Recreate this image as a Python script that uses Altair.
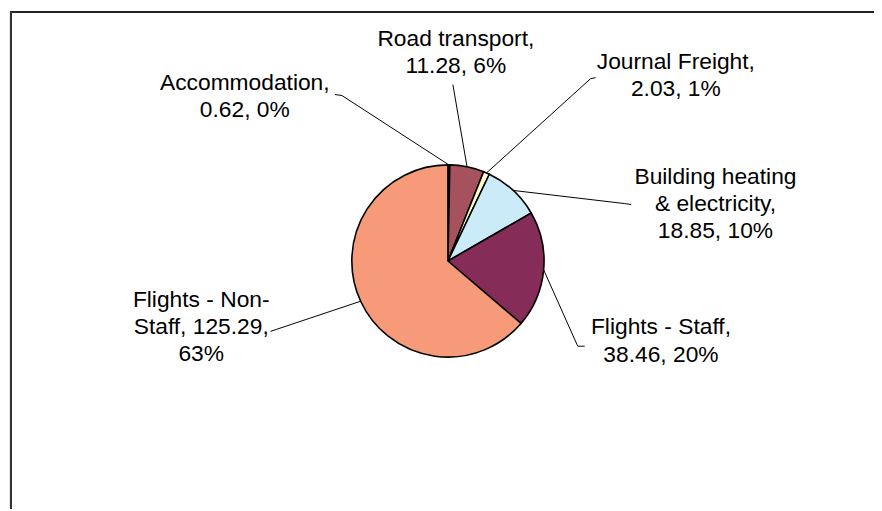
import math
import altair as alt
import pandas as pd

# ---- data ----
categories = ["Accommodation", "Road transport", "Journal Freight",
              "Building heating & electricity", "Flights - Staff", "Flights - Non-Staff"]
values = [0.62, 11.28, 2.03, 18.85, 38.46, 125.29]
value_text = ["0.62", "11.28", "2.03", "18.85", "38.46", "125.29"]
percents = [0, 6, 1, 10, 20, 63]

# ---- styling / layout ----
colors = ["#2b2b2b", "#A5525E", "#FFFFCC", "#CCEBF8", "#852C59", "#F69A7A"]
label_lines = [
    ["Accommodation,", "{v}, {p}%"],
    ["Road transport,", "{v}, {p}%"],
    ["Journal Freight,", "{v}, {p}%"],
    ["Building heating", "& electricity,", "{v}, {p}%"],
    ["Flights - Staff,", "{v}, {p}%"],
    ["Flights - Non-", "Staff, {v},", "{p}%"],
]
# label anchor (centre x, first baseline y) in page pixels
label_pos = [(247, 88), (460, 44), (682, 67), (722, 183), (667, 335), (203, 307)]
# leader-line bend points (page pixels)
leader_pts = [
    [(345, 94), (338, 93)],
    [(457, 83)],
    [(596, 77), (601, 76)],
    [(630, 203), (637, 204)],
    [(583, 347), (590, 347)],
    [(279, 330), (273, 332)],
]

OFF = 8  # page margin
CX, CY, R = 452 - OFF, 261 - OFF, 97
W, H = 874, 503
FONT = "Liberation Sans"
FS = 23
LH = 27.5

total = sum(values)

pie_df = pd.DataFrame({"category": categories, "value": values,
                       "order": list(range(len(values)))})

# leader lines: start on slice edge at mid angle
rows = []
cum = 0.0
for i, (c, v) in enumerate(zip(categories, values)):
    mid = (cum + v / 2) / total * 2 * math.pi
    cum += v
    sx = CX + R * math.sin(mid)
    sy = CY - R * math.cos(mid)
    pts = [(sx, sy)] + [(x - OFF, y - OFF) for x, y in leader_pts[i]]
    for k, (x, y) in enumerate(pts):
        rows.append({"category": c, "k": k, "x": x, "y": y})
lead_df = pd.DataFrame(rows)

txt_rows = []
for i, c in enumerate(categories):
    lines = [s.format(v=value_text[i], p=percents[i]) for s in label_lines[i]]
    x, y = label_pos[i]
    txt_rows.append({"category": c, "text": "\n".join(lines), "x": x - OFF, "y": y - OFF})
txt_df = pd.DataFrame(txt_rows)

pie = alt.Chart(pie_df).mark_arc(outerRadius=R, stroke="black", strokeWidth=1.6).encode(
    theta=alt.Theta("value:Q", stack=True),
    color=alt.Color("category:N", scale=alt.Scale(domain=categories, range=colors), legend=None),
    order=alt.Order("order:Q"),
    x=alt.value(CX),
    y=alt.value(CY),
)

leaders = alt.Chart(lead_df).mark_line(color="black", strokeWidth=1).encode(
    x=alt.X("x:Q", scale=None),
    y=alt.Y("y:Q", scale=None),
    detail="category:N",
    order="k:Q",
)

labels = alt.Chart(txt_df).mark_text(
    font=FONT, fontSize=FS, align="center", baseline="alphabetic",
    lineBreak="\n", lineHeight=LH, color="black",
).encode(
    x=alt.X("x:Q", scale=None),
    y=alt.Y("y:Q", scale=None),
    text="text:N",
)

frame_top = alt.Chart(pie_df).mark_rule(color="#222222", strokeWidth=1.5).encode(
    x=alt.value(10 - OFF), x2=alt.value(W), y=alt.value(9.5 - OFF)
)
frame_left = alt.Chart(pie_df).mark_rule(color="#333333", strokeWidth=2).encode(
    x=alt.value(11 - OFF), y=alt.value(9 - OFF), y2=alt.value(H)
)

chart = alt.layer(frame_top, frame_left, pie, leaders, labels).properties(
    width=W, height=H, autosize=alt.AutoSizeParams(type="none"), padding=0
).configure_view(stroke=None)

chart.save("out.html", embed_options={"renderer": "svg", "actions": False})
